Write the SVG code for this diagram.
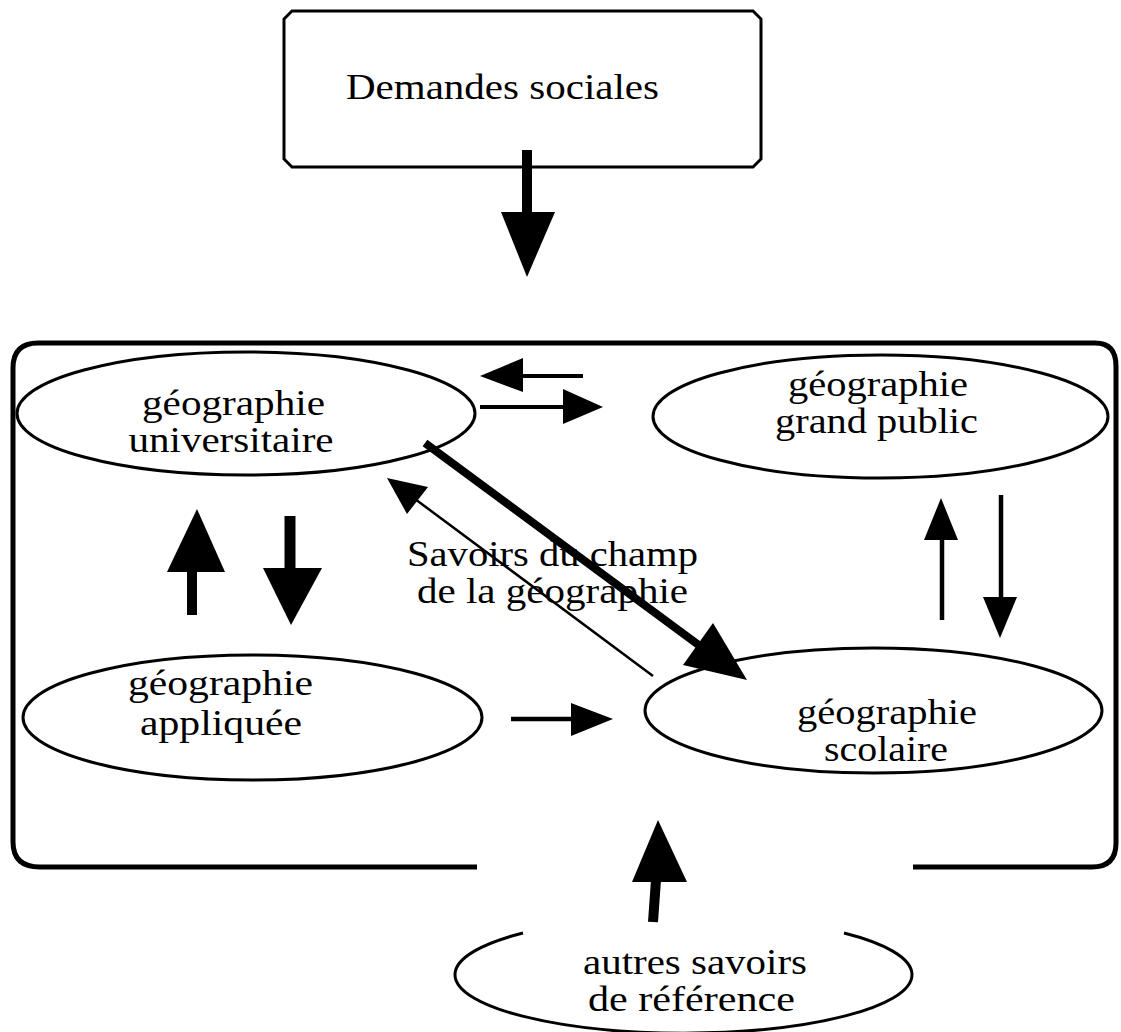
<svg xmlns="http://www.w3.org/2000/svg" width="1121" height="1032" viewBox="0 0 1121 1032">
<style>
  .bg { fill: #ffffff; }
  .node { fill: #ffffff; stroke: #000000; stroke-width: 3; }
  .ell { fill: #ffffff; stroke: #000000; stroke-width: 3; }
  .frame { fill: none; stroke: #000000; stroke-width: 5; stroke-linejoin: round; }
  .lbl { font-family: "Liberation Serif", "Times New Roman", serif; font-size: 36px; fill: #000000; text-anchor: middle; }
  .shaft { stroke: #000000; fill: none; stroke-linecap: butt; }
  .head { fill: #000000; stroke: none; }
</style>
<rect class="bg" x="0" y="0" width="1121" height="1032"/>

<g id="frame">
  <path class="frame" d="M 477 867 L 40 867 Q 13 867 13 842 L 13 368 Q 13 343 38 343 L 1095 343 Q 1116 343 1116 366 L 1116 843 Q 1116 867 1092 867 L 913 867"/>
</g>

<g id="node-demandes">
  <path class="node" d="M 292 11 L 753 11 L 761 19 L 761 159 L 753 167 L 292 167 L 284 159 L 284 19 Z"/>
  <text class="lbl" x="502.5" y="99" font-size="38" textLength="313" lengthAdjust="spacingAndGlyphs">Demandes sociales</text>
</g>

<g id="node-universitaire">
  <ellipse class="ell" cx="246" cy="413.5" rx="229" ry="61.5"/>
  <text class="lbl" x="233.5" y="415" textLength="183" lengthAdjust="spacingAndGlyphs">géographie</text>
  <text class="lbl" x="231" y="452" textLength="205" lengthAdjust="spacingAndGlyphs">universitaire</text>
</g>

<g id="node-grandpublic">
  <ellipse class="ell" cx="880.5" cy="416.5" rx="227.5" ry="61.5"/>
  <text class="lbl" x="878" y="396" textLength="180" lengthAdjust="spacingAndGlyphs">géographie</text>
  <text class="lbl" x="876.5" y="433" textLength="203" lengthAdjust="spacingAndGlyphs">grand public</text>
</g>

<g id="node-appliquee">
  <ellipse class="ell" cx="252.5" cy="717.5" rx="229.5" ry="62.5"/>
  <text class="lbl" x="220.5" y="695" textLength="185" lengthAdjust="spacingAndGlyphs">géographie</text>
  <text class="lbl" x="221" y="735" textLength="162" lengthAdjust="spacingAndGlyphs">appliquée</text>
</g>

<g id="node-scolaire">
  <ellipse class="ell" cx="873.5" cy="710.5" rx="228.5" ry="62.5"/>
  <text class="lbl" x="887" y="724" textLength="180" lengthAdjust="spacingAndGlyphs">géographie</text>
  <text class="lbl" x="886" y="761" textLength="124" lengthAdjust="spacingAndGlyphs">scolaire</text>
</g>

<g id="node-autres">
  <path class="ell" fill="none" d="M 523 933 A 228.5 58.5 0 1 0 844 933"/>
  <text class="lbl" x="695" y="974" textLength="224" lengthAdjust="spacingAndGlyphs">autres savoirs</text>
  <text class="lbl" x="691.5" y="1011" textLength="207" lengthAdjust="spacingAndGlyphs">de référence</text>
</g>

<g id="label-savoirs">
  <text class="lbl" x="552.5" y="566" textLength="291" lengthAdjust="spacingAndGlyphs">Savoirs du champ</text>
  <text class="lbl" x="552.5" y="603" textLength="271" lengthAdjust="spacingAndGlyphs">de la géographie</text>
</g>

<g id="connectors">
  <!-- Demandes sociales -> frame -->
  <line class="shaft" x1="527" y1="150" x2="527" y2="214" stroke-width="10"/>
  <polygon class="head" points="501,212 555,212 527,277"/>
  <!-- grand public -> universitaire -->
  <line class="shaft" x1="583" y1="376" x2="520" y2="376" stroke-width="4"/>
  <polygon class="head" points="523,358 523,392 480,376"/>
  <!-- universitaire -> grand public -->
  <line class="shaft" x1="480" y1="407" x2="566" y2="407" stroke-width="4"/>
  <polygon class="head" points="563,389 563,424 603,407"/>
  <!-- universitaire -> scolaire (thick) -->
  <line class="shaft" x1="425" y1="443" x2="700" y2="646" stroke-width="8"/>
  <polygon class="head" points="683,665 713,623 747,680"/>
  <!-- scolaire -> universitaire (thin) -->
  <line class="shaft" x1="653" y1="676" x2="415" y2="499" stroke-width="2.5"/>
  <polygon class="head" points="407,514 428,487 387,478"/>
  <!-- appliquee -> universitaire -->
  <line class="shaft" x1="192" y1="615" x2="192" y2="570" stroke-width="10"/>
  <polygon class="head" points="167,572 225,572 197,509"/>
  <!-- universitaire -> appliquee -->
  <line class="shaft" x1="290" y1="516" x2="290" y2="570" stroke-width="11"/>
  <polygon class="head" points="263,568 322,568 291,625"/>
  <!-- scolaire -> grand public -->
  <line class="shaft" x1="942" y1="620" x2="942" y2="538" stroke-width="4.5"/>
  <polygon class="head" points="924,540 958,540 941,498"/>
  <!-- grand public -> scolaire -->
  <line class="shaft" x1="1001" y1="495" x2="1001" y2="600" stroke-width="4.5"/>
  <polygon class="head" points="983,597 1017,597 1000,638"/>
  <!-- appliquee -> scolaire -->
  <line class="shaft" x1="511" y1="719" x2="573" y2="719" stroke-width="4.5"/>
  <polygon class="head" points="571,703 571,736 613,719"/>
  <!-- autres savoirs -> frame -->
  <line class="shaft" x1="653" y1="922" x2="656" y2="880" stroke-width="10"/>
  <polygon class="head" points="632,882 687,882 658,820"/>
</g>
</svg>
